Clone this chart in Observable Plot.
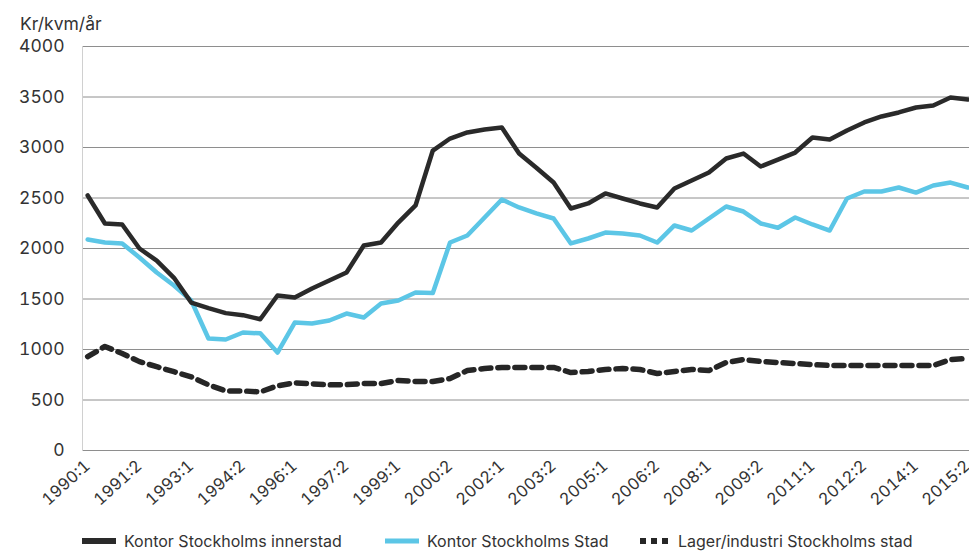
<!DOCTYPE html>
<html>
<head>
<meta charset="utf-8">
<script src="https://cdn.jsdelivr.net/npm/d3@7"></script>
<script src="https://cdn.jsdelivr.net/npm/@observablehq/plot@0.6"></script>
<style>
  body { margin: 0; background: #fff; font-family: Inter, "Open Sans", sans-serif; }
  #wrap { position: relative; width: 969px; height: 552px; overflow: hidden; background: #fff; }
  #ylab { position: absolute; left: 20px; top: 13px; font-size: 17.5px; color: #333; }
  #chart { position: absolute; left: 0; top: 0; }
  .leg { position: absolute; top: 531px; display: flex; align-items: center; font-size: 16px; color: #333; white-space: nowrap; }
  .leg svg { margin-right: 8px; }
</style>
</head>
<body>
<div id="wrap">
  <div id="chart"></div>
  <div id="ylab">Kr/kvm/år</div>
  <div id="legend"></div>
</div>
<script>
const periods = [
  "1990:1","1990:2","1991:1","1991:2","1992:1","1992:2","1993:1","1993:2","1994:1","1994:2",
  "1995:1","1995:2","1996:1","1996:2","1997:1","1997:2","1998:1","1998:2","1999:1","1999:2",
  "2000:1","2000:2","2001:1","2001:2","2002:1","2002:2","2003:1","2003:2","2004:1","2004:2",
  "2005:1","2005:2","2006:1","2006:2","2007:1","2007:2","2008:1","2008:2","2009:1","2009:2",
  "2010:1","2010:2","2011:1","2011:2","2012:1","2012:2","2013:1","2013:2","2014:1","2014:2",
  "2015:1","2015:2"
];
const tickLabels = ["1990:1","1991:2","1993:1","1994:2","1996:1","1997:2","1999:1","2000:2","2002:1",
  "2003:2","2005:1","2006:2","2008:1","2009:2","2011:1","2012:2","2014:1","2015:2"];
const yTicks = [0,500,1000,1500,2000,2500,3000,3500,4000];

const seriesNames = ["Kontor Stockholms innerstad","Kontor Stockholms Stad","Lager/industri Stockholms stad"];

const innerstad = [2525,2248,2238,2000,1880,1710,1465,1410,1360,1340,1300,
  1535,1515,1604,1683,1762,2030,2059,2257,2426,2970,
  3089,3149,3178,3198,2940,2800,2653,2396,2446,2545,
  2495,2446,2406,2594,2673,2752,2891,2940,2812,2880,
  2950,3099,3079,3168,3248,3307,3347,3396,3416,3495,3475];
const stad = [2089,2059,2050,1911,1762,1634,1485,1109,1099,1168,1160,
  970,1267,1257,1287,1356,1317,1455,1485,1564,1560,
  2059,2129,2307,2485,2406,2347,2297,2050,2099,2158,
  2148,2129,2059,2228,2178,2297,2416,2366,2248,2205,
  2307,2238,2178,2495,2564,2564,2604,2554,2624,2653,2604];
const lager = [930,1030,960,880,830,780,730,650,590,590,580,
  640,670,660,650,653,663,663,693,683,683,
  713,792,812,822,822,822,822,772,782,802,
  812,802,762,782,802,792,871,901,881,871,
  861,851,842,842,842,842,842,842,842,901,911];

const rows = periods.map((p, i) => ({ i, p, innerstad: innerstad[i], stad: stad[i], lager: lager[i] }));
const tickIdx = tickLabels.map(t => periods.indexOf(t));

const chart = Plot.plot({
  width: 969,
  height: 515,
  marginLeft: 82,
  marginRight: 0,
  marginTop: 46,
  marginBottom: 65,
  style: { fontFamily: "Inter, 'Open Sans', sans-serif", color: "#333", background: "transparent", overflow: "visible" },
  x: { type: "linear", domain: [-0.3, 51.1], label: null },
  y: { domain: [0, 4000], label: null },
  marks: [
    Plot.gridY(yTicks, { stroke: "#7a7a7a", strokeOpacity: 0.85, strokeWidth: 1 }),
    Plot.frame({ anchor: "left", stroke: "#d0d0d0" }),
    Plot.lineY(rows, { x: "i", y: "lager", stroke: "#262626", strokeWidth: 5.5, strokeDasharray: "10,7" }),
    Plot.lineY(rows, { x: "i", y: "stad", stroke: "#5cc6e6", strokeWidth: 4.5, strokeLinejoin: "round" }),
    Plot.lineY(rows, { x: "i", y: "innerstad", stroke: "#2a2a2a", strokeWidth: 4.5, strokeLinejoin: "round" }),
    Plot.axisY(yTicks, { tickSize: 0, tickPadding: 18, tickFormat: d => String(d), fontSize: 17.5, label: null }),
    Plot.axisX(tickIdx, { tickSize: 0, tickPadding: 13, tickRotate: -42, tickFormat: i => periods[i], fontSize: 16.5, label: null })
  ]
});
document.getElementById("chart").appendChild(chart);

// legend
const legend = document.getElementById("legend");
const legLefts = [82, 385, 640];
function swatch(k) {
  const ns = "http://www.w3.org/2000/svg";
  const s = document.createElementNS(ns, "svg");
  s.setAttribute("width", k === 2 ? 30 : 34);
  s.setAttribute("height", 10);
  const l = document.createElementNS(ns, "line");
  l.setAttribute("x1", 0); l.setAttribute("x2", k === 2 ? 30 : 34);
  l.setAttribute("y1", 5); l.setAttribute("y2", 5);
  if (k === 0) { l.setAttribute("stroke", "#2a2a2a"); l.setAttribute("stroke-width", 6); }
  if (k === 1) { l.setAttribute("stroke", "#5cc6e6"); l.setAttribute("stroke-width", 5); }
  if (k === 2) { l.setAttribute("stroke", "#262626"); l.setAttribute("stroke-width", 6); l.setAttribute("stroke-dasharray", "6,5"); }
  s.appendChild(l);
  return s;
}
seriesNames.forEach((name, k) => {
  const d = document.createElement("div");
  d.className = "leg";
  d.style.left = legLefts[k] + "px";
  d.appendChild(swatch(k));
  const t = document.createElement("span");
  t.textContent = name;
  d.appendChild(t);
  legend.appendChild(d);
});
</script>
</body>
</html>
